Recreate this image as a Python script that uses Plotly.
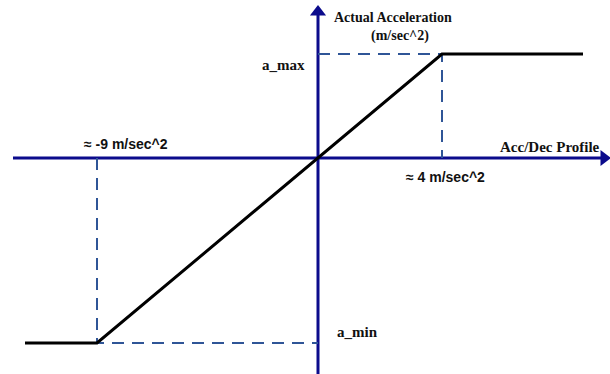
import plotly.graph_objects as go

# Schematic values (axis units, origin at the axis crossing)
profile_x = [-293, -221, 124, 265]      # left end, negative knee, positive knee, right end
profile_y = [-185, -185, 104, 104]      # a_min, a_min, a_max, a_max
x_axis_span = [-305, 286]
y_axis_span = [-216, 146]

labels = {
    "y_title1": "Actual Acceleration",
    "y_title2": "(m/sec^2)",
    "x_title": "Acc/Dec Profile",
    "a_max": "a_max",
    "a_min": "a_min",
    "neg": "\u2248 -9 m/sec^2",
    "pos": "\u2248 4 m/sec^2",
}

AXIS = "#0B0B8C"
DASH = "#2F5597"
serif = dict(family="Liberation Serif, Times New Roman, serif", size=14, color="#111111", weight="bold")
serif_big = dict(family="Liberation Serif, Times New Roman, serif", size=15, color="#111111", weight="bold")
sans = dict(family="Liberation Sans, Arial, sans-serif", size=14, color="#111111", weight="bold")

fig = go.Figure()

# axes
fig.add_trace(go.Scatter(x=x_axis_span, y=[0, 0], mode="lines",
                         line=dict(color=AXIS, width=3), hoverinfo="skip"))
fig.add_trace(go.Scatter(x=[0, 0], y=y_axis_span, mode="lines",
                         line=dict(color=AXIS, width=3), hoverinfo="skip"))
fig.add_trace(go.Scatter(x=[x_axis_span[1]], y=[0], mode="markers",
                         marker=dict(symbol="triangle-right", size=14, color=AXIS), hoverinfo="skip"))
fig.add_trace(go.Scatter(x=[0], y=[y_axis_span[1]], mode="markers",
                         marker=dict(symbol="triangle-up", size=14, color=AXIS), hoverinfo="skip"))

# dashed guides
dash_style = dict(color=DASH, width=2, dash="12px,8px")
fig.add_trace(go.Scatter(x=[0, profile_x[2], profile_x[2]], y=[profile_y[2], profile_y[2], 0],
                         mode="lines", line=dash_style, hoverinfo="skip"))
fig.add_trace(go.Scatter(x=[profile_x[1], profile_x[1], 0], y=[0, profile_y[1], profile_y[1]],
                         mode="lines", line=dash_style, hoverinfo="skip"))

# profile
fig.add_trace(go.Scatter(x=profile_x, y=profile_y, mode="lines",
                         line=dict(color="black", width=3), hoverinfo="skip"))

ann = [
    dict(x=75, y=141, text=labels["y_title1"], font=serif, xanchor="center", yanchor="middle"),
    dict(x=82, y=122, text=labels["y_title2"], font=serif, xanchor="center", yanchor="middle"),
    dict(x=284, y=11, text=labels["x_title"], font=serif_big, xanchor="right", yanchor="middle"),
    dict(x=-11, y=93, text=labels["a_max"], font=serif_big, xanchor="right", yanchor="middle"),
    dict(x=17, y=-174, text=labels["a_min"], font=serif_big, xanchor="left", yanchor="middle"),
    dict(x=-192, y=14, text=labels["neg"], font=sans, xanchor="center", yanchor="middle"),
    dict(x=127, y=-19, text=labels["pos"], font=sans, xanchor="center", yanchor="middle"),
]
for a in ann:
    a.update(showarrow=False, xref="x", yref="y")
fig.update_layout(annotations=ann)

fig.update_layout(
    width=610, height=374,
    margin=dict(l=0, r=0, t=0, b=0),
    paper_bgcolor="white", plot_bgcolor="white",
    showlegend=False,
    xaxis=dict(range=[-318, 292], visible=False, fixedrange=True),
    yaxis=dict(range=[-216, 158], visible=False, fixedrange=True),
)

fig.write_html("out.html", config={"displayModeBar": False},
               post_script="document.body.style.margin='0';document.body.style.overflow='hidden';")
